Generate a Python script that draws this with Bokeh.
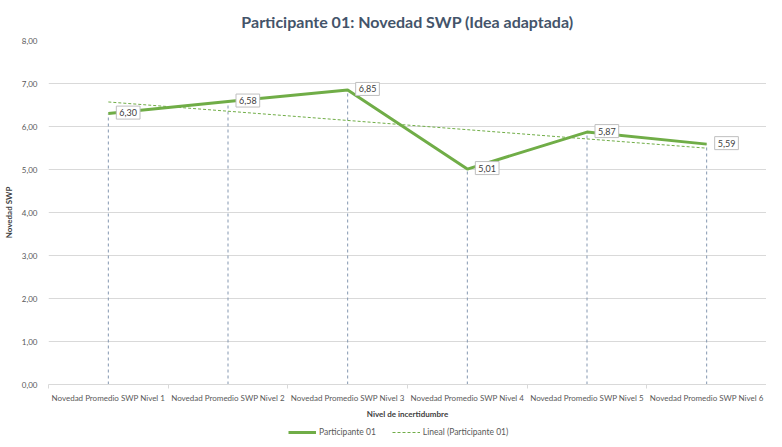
import numpy as np
from bokeh.plotting import figure
from bokeh.layouts import column
from bokeh.models import (ColumnDataSource, FixedTicker, Legend, LegendItem, Range1d)
from bokeh.core.properties import value
from bokeh.embed import file_html
from bokeh.resources import INLINE

categories = ["Novedad Promedio SWP Nivel 1", "Novedad Promedio SWP Nivel 2",
              "Novedad Promedio SWP Nivel 3", "Novedad Promedio SWP Nivel 4",
              "Novedad Promedio SWP Nivel 5", "Novedad Promedio SWP Nivel 6"]
values = [6.30, 6.58, 6.85, 5.01, 5.87, 5.59]
y_ticks = [0, 1, 2, 3, 4, 5, 6, 7, 8]
series_name = "Participante 01"
trend_name = "Lineal (Participante 01)"

FONT = "Lato"
GREEN = "#70AD47"

xs = list(range(1, len(values) + 1))
slope, intercept = np.polyfit(xs, values, 1)
trend = [slope * x + intercept for x in xs]

src = ColumnDataSource(dict(
    x=xs, y=values, zero=[0] * len(xs),
    lab=[f"{v:.2f}".replace(".", ",") for v in values],
))

p = figure(width=766, frame_height=344, output_backend="svg", toolbar_location=None,
           x_range=Range1d(0.5, len(values) + 0.5), y_range=Range1d(0, 8),
           min_border_left=42, min_border_right=0, min_border_top=0, min_border_bottom=0)
p.outline_line_color = None
p.background_fill_color = "white"

p.title.text = "Participante 01: Novedad SWP (Idea adaptada)"
p.title.text_font = FONT
p.title.text_font_size = "16px"
p.title.text_font_style = "bold"
p.title.text_color = "#44546A"
p.title.align = "center"
p.title.standoff = 19

# y axis
p.yaxis.ticker = FixedTicker(ticks=y_ticks)
p.yaxis.major_label_overrides = {t: f"{t:.2f}".replace(".", ",") for t in y_ticks}
p.yaxis.axis_line_color = None
p.yaxis.major_tick_line_color = None
p.yaxis.minor_tick_line_color = None
p.yaxis.major_label_text_font = FONT
p.yaxis.major_label_text_font_size = "8px"
p.yaxis.major_label_text_color = "#595959"
p.yaxis.axis_label = "Novedad SWP"
p.yaxis.axis_label_text_font = FONT
p.yaxis.axis_label_text_font_size = "8px"
p.yaxis.axis_label_text_font_style = "bold"
p.yaxis.axis_label_text_color = "#404040"
p.yaxis.axis_label_standoff = 5
p.ygrid.grid_line_color = "#D9D9D9"
p.xgrid.grid_line_color = None

# x axis
p.xaxis.ticker = FixedTicker(ticks=xs, minor_ticks=[x + 0.5 for x in range(0, len(xs) + 1)])
p.xaxis.major_label_overrides = {x: c for x, c in zip(xs, categories)}
p.xaxis.major_tick_line_color = None
p.xaxis.minor_tick_line_color = "#D9D9D9"
p.xaxis.minor_tick_in = 0
p.xaxis.minor_tick_out = 4
p.xaxis.axis_line_color = "#D9D9D9"
p.xaxis.major_label_text_font = FONT
p.xaxis.major_label_text_font_size = "8px"
p.xaxis.major_label_text_color = "#595959"
p.xaxis.major_label_standoff = 2
p.xaxis.axis_label = "Nivel de incertidumbre"
p.xaxis.axis_label_text_font = FONT
p.xaxis.axis_label_text_font_size = "8px"
p.xaxis.axis_label_text_font_style = "bold"
p.xaxis.axis_label_text_color = "#404040"
p.xaxis.axis_label_standoff = 3

# drop lines
p.segment(x0="x", y0="zero", x1="x", y1="y", source=src, line_color="#8497B0",
          line_width=1, line_dash="3 3")

# trend
p.line(xs, trend, line_color=GREEN, line_width=1, line_dash="3 2")
# main line
p.line(x="x", y="y", source=src, line_color=GREEN, line_width=3)

p.text(x="x", y="y", text="lab", source=src, x_offset=8, y_offset=-1,
       text_font=value(FONT), text_font_size="9px", text_color="#404040",
       text_baseline="middle", background_fill_color="white",
       border_line_color="#BFBFBF", padding=3)

# legend strip below the chart
lg = figure(width=766, height=17, output_backend="svg", toolbar_location=None,
            x_range=Range1d(0, 1), y_range=Range1d(0, 1),
            x_axis_location=None, y_axis_location=None, min_border=0)
lg.grid.visible = False
lg.outline_line_color = None
r1 = lg.line([-2, -1], [-2, -2], line_color=GREEN, line_width=3)
r2 = lg.line([-2, -1], [-2, -2], line_color=GREEN, line_width=1, line_dash="3 2")
legend = Legend(items=[LegendItem(label=series_name, renderers=[r1]),
                       LegendItem(label=trend_name, renderers=[r2])],
                orientation="horizontal", location=(240, 1),
                label_text_font=FONT, label_text_font_size="8.5px",
                label_text_color="#595959", border_line_color=None,
                background_fill_alpha=0, label_standoff=3,
                glyph_width=28, glyph_height=8, spacing=16, padding=2, margin=0)
lg.add_layout(legend)

layout = column(p, lg, spacing=0)
open("out.html", "w").write(file_html(layout, INLINE))
